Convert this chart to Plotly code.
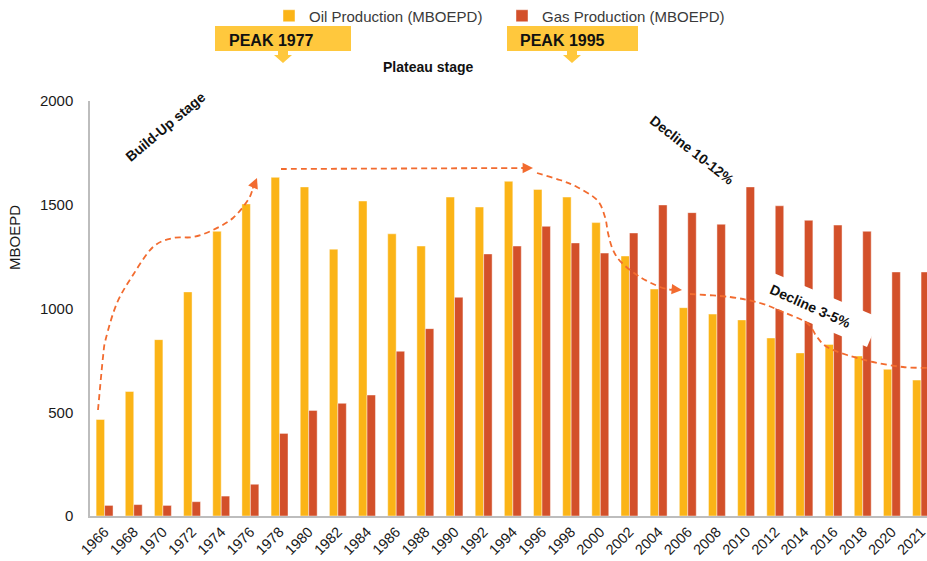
import plotly.graph_objects as go

# ---------------- data ----------------
years = ["1966", "1968", "1970", "1972", "1974", "1976", "1978", "1980", "1982", "1984",
         "1986", "1988", "1990", "1992", "1994", "1996", "1998", "2000", "2002", "2004",
         "2006", "2008", "2010", "2012", "2014", "2016", "2018", "2020", "2021"]
oil_production = [465, 600, 850, 1080, 1372, 1504, 1632, 1586, 1286, 1518,
                  1360, 1301, 1537, 1489, 1613, 1574, 1537, 1414, 1253, 1094,
                  1004, 973, 945, 858, 786, 827, 771, 707, 655]
gas_production = [51, 55, 51, 69, 96, 153, 398, 509, 543, 583,
                  794, 903, 1054, 1263, 1301, 1396, 1316, 1267, 1364, 1499,
                  1462, 1406, 1586, 1495, 1425, 1402, 1372, 1176, 1176]
y_ticks = [0, 500, 1000, 1500, 2000]

OIL = "#FBB417"
GAS = "#D3502A"
BOX = "#FFC83D"
CURVE = "#F26B2F"
FONT = "Liberation Sans, Arial, sans-serif"

# ---------------- layout geometry ----------------
W, H = 927, 561
ML, MT, MR, MB = 90, 101, 0, 45
PW, PH = W - ML - MR, H - MT - MB


def px(x):
    return (x - ML) / PW


def py(y):
    return (H - MB - y) / PH


def poly(points):
    d = "M" + " L".join(f"{px(x):.5f},{py(y):.5f}" for x, y in points)
    return d + " Z"


def smooth(points):
    P = [(px(x), py(y)) for x, y in points]
    d = f"M{P[0][0]:.5f},{P[0][1]:.5f}"
    for i in range(len(P) - 1):
        p0 = P[i - 1] if i > 0 else P[i]
        p1, p2 = P[i], P[i + 1]
        p3 = P[i + 2] if i + 2 < len(P) else P[i + 1]
        c1 = (p1[0] + (p2[0] - p0[0]) / 6, p1[1] + (p2[1] - p0[1]) / 6)
        c2 = (p2[0] - (p3[0] - p1[0]) / 6, p2[1] - (p3[1] - p1[1]) / 6)
        d += f" C{c1[0]:.5f},{c1[1]:.5f} {c2[0]:.5f},{c2[1]:.5f} {p2[0]:.5f},{p2[1]:.5f}"
    return d


idx = list(range(len(years)))

fig = go.Figure()
fig.add_trace(go.Bar(x=idx, y=oil_production, name="Oil Production (MBOEPD)",
                     marker=dict(color=OIL, line=dict(color="rgba(255,255,255,0.55)", width=0.8))))
fig.add_trace(go.Bar(x=idx, y=gas_production, name="Gas Production (MBOEPD)",
                     marker=dict(color=GAS, line=dict(color="rgba(255,255,255,0.55)", width=0.8))))

shapes = []
# white rotated box behind "Decline 3-5%"
shapes.append(dict(type="path", xref="paper", yref="paper", layer="above",
                   path=poly([(769, 271), (879.5, 317.7), (867, 347), (756.5, 300.3)]),
                   fillcolor="white", line=dict(width=0)))

dash_line = dict(color=CURVE, width=1.8, dash="6px,4px")
buildup = [(98, 410), (103, 357), (106, 338), (117, 303), (133, 275), (153, 247), (173, 238),
           (193, 237), (213, 230), (233, 218), (248, 200), (253, 188)]
plateau = [(281, 169), (523, 168)]
decline = [(537, 173), (560, 180), (577, 187), (597, 200), (605, 217), (608, 233), (613, 250),
           (622, 263), (640, 277), (660, 287), (672, 290)]
decline2 = [(690, 294), (730, 297), (760, 303), (783, 312), (807, 323), (817, 337), (827, 347),
            (847, 355), (873, 362), (903, 367), (930, 368)]
for pts in (buildup, plateau, decline, decline2):
    shapes.append(dict(type="path", xref="paper", yref="paper", layer="above",
                       path=smooth(pts), line=dash_line))

# PEAK boxes with down arrows
for x0, x1, cx in ((215, 351, 283), (507, 638, 572)):
    shapes.append(dict(type="rect", xref="paper", yref="paper", layer="above",
                       x0=px(x0), x1=px(x1), y0=py(51), y1=py(26),
                       fillcolor=BOX, line=dict(width=0)))
    shapes.append(dict(type="path", xref="paper", yref="paper", layer="above",
                       path=poly([(cx - 5, 50), (cx + 5, 50), (cx + 5, 55), (cx + 9, 55),
                                  (cx, 63), (cx - 9, 55), (cx - 5, 55)]),
                       fillcolor=BOX, line=dict(width=0)))

annotations = []


def label(text, x, y, size=14, angle=0, bold=True, xanchor="center", color="#111111"):
    annotations.append(dict(text=f"<b>{text}</b>" if bold else text, x=px(x), y=py(y),
                            xref="paper", yref="paper", showarrow=False, textangle=angle,
                            xanchor=xanchor, yanchor="middle",
                            font=dict(family=FONT, size=size, color=color)))


label("PEAK 1977", 227, 41, size=16, xanchor="left")
label("PEAK 1995", 518, 41, size=16, xanchor="left")
label("Plateau stage", 428, 67, size=14)
label("Build-Up stage", 165, 127, size=14, angle=-40)
label("Decline 10-12%", 692, 150, size=14, angle=38)
label("Decline 3-5%", 810, 306, size=14, angle=24)
label("MBOEPD", 14, 238, size=15, angle=-90, bold=False, color="#1a1a1a")

# arrowheads
for tx, ty, ax, ay in ((257, 178, -5, 12), (533, 168, -12, 0), (682, 290, -12, -1)):
    annotations.append(dict(text="", x=px(tx), y=py(ty), xref="paper", yref="paper",
                            showarrow=True, arrowhead=2, arrowsize=1.3, arrowwidth=1.6,
                            arrowcolor=CURVE, ax=ax, ay=ay))

fig.update_layout(
    width=W, height=H,
    margin=dict(l=ML, r=MR, t=MT, b=MB, pad=0, autoexpand=False),
    paper_bgcolor="white", plot_bgcolor="white",
    barmode="group", bargap=0.42, bargroupgap=0,
    font=dict(family=FONT, size=15, color="#1a1a1a"),
    shapes=shapes, annotations=annotations,
    showlegend=True,
    legend=dict(orientation="h", x=px(269), xanchor="left", y=py(16), yanchor="middle",
                font=dict(family=FONT, size=15, color="#3a3a3a"),
                entrywidth=188, entrywidthmode="pixels", itemwidth=30,
                bgcolor="rgba(0,0,0,0)", borderwidth=0),
    xaxis=dict(range=[-0.5, -0.5 + PW / 29.16], tickvals=idx, ticktext=years, tickangle=-45,
               automargin=False, ticklabeloverflow="allow",
               showgrid=False, zeroline=False, showline=True, linecolor="#BDBDBD", linewidth=1.5,
               ticks="", ticklabelstandoff=0, tickfont=dict(family=FONT, size=14.5, color="#1a1a1a")),
    yaxis=dict(range=[0, 2000], tickvals=y_ticks, showgrid=False, zeroline=False,
               automargin=False,
               showline=True, linecolor="#BDBDBD", linewidth=1.5, ticks="",
               ticklabelstandoff=12, tickfont=dict(family=FONT, size=15, color="#1a1a1a")),
)

fig.write_html("out.html", config={"displayModeBar": False},
               post_script="document.body.style.margin='0';document.body.style.padding='0';"
                           "document.body.style.overflow='hidden';")
